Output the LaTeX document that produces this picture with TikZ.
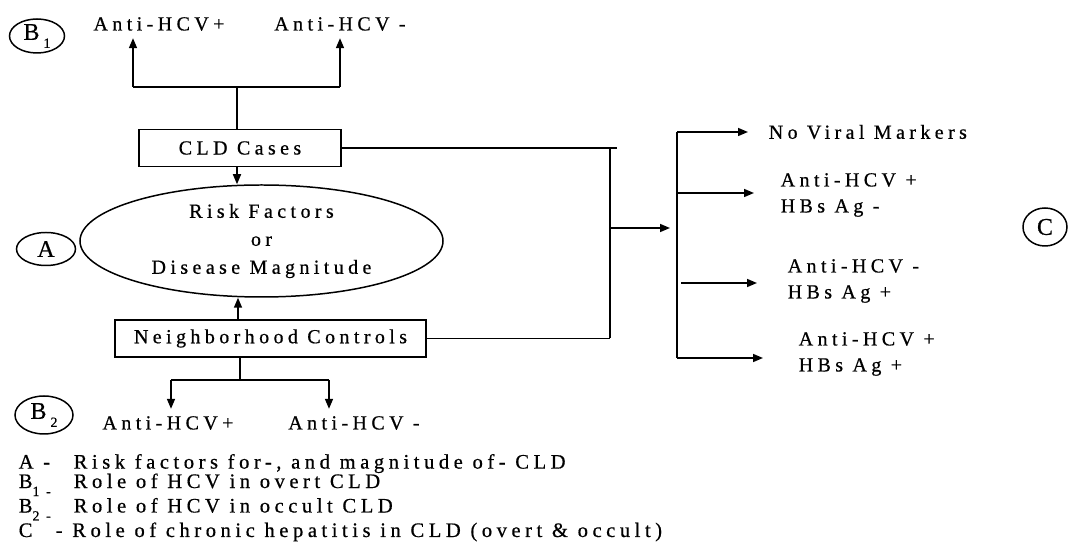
\documentclass[tikz,border=0pt]{standalone}
\usepackage{fontspec}
\setmainfont{Liberation Serif}[LetterSpace=22,FakeBold=0.6]
\usepackage{tikz}
\usetikzlibrary{arrows.meta,calc,positioning,shapes.geometric}

\newcommand{\lowidx}[1]{\raisebox{-4bp}{\fontsize{7bp}{7bp}\selectfont #1}}
\tikzset{
  cellbox/.style={draw, minimum height=18.5bp, inner ysep=0pt},
  tagoval/.style={draw, ellipse, inner sep=0pt, font=\fontsize{12bp}{12bp}\selectfont},
  arr/.style={-{Triangle[length=5bp,width=4bp]}},
  side/.style={anchor=west, inner xsep=0pt, align=left},
}

\begin{document}
\begin{tikzpicture}[x=0.5bp, y={(0,-0.5bp)}, line width=0.75pt,
    font=\fontsize{10bp}{13bp}\selectfont]
\useasboundingbox (0,0) rectangle (1074,548);

% top branch
\node[tagoval, minimum width=27.5bp, minimum height=17bp] (b1) at (37,36) {B\,\lowidx{1}};
\node (p1) at (159,24) {Anti-HCV+};
\node (n1) at (340,24) {Anti-HCV -};
\node[cellbox, minimum width=101bp] (cld) at (240,148) {CLD Cases};

% centre
\node[tagoval, minimum width=29.5bp, minimum height=16.5bp] (a) at (46,249) {A};
\node[draw, ellipse, inner sep=0pt, minimum width=181.5bp, minimum height=56bp, align=center,
      font=\fontsize{10bp}{14bp}\selectfont] (risk) at (261.5,241) {Risk Factors\\or\\Disease Magnitude};
\node[cellbox, minimum width=155.5bp] (nbh) at (270.5,338.5) {Neighborhood Controls};

% bottom branch
\node[tagoval, minimum width=29bp, minimum height=19bp] (b2) at (44,415) {B\,\lowidx{2}};
\node (p2) at (168,423) {Anti-HCV+};
\node (n2) at (354,423) {Anti-HCV -};

% right side
\node[side] (nv) at (768,132) {No Viral Markers};
\node[side] (v1) at (780,195) {Anti-HCV +\\HBs Ag -};
\node[side] (v2) at (787,281) {Anti-HCV -\\HBs Ag +};
\node[side] (v3) at (798,354) {Anti-HCV +\\HBs Ag +};
\node[tagoval, minimum width=22bp, minimum height=19bp] (c) at (1045,227) {C};

% legend
\node[anchor=base west, inner sep=0pt, align=left, font=\fontsize{10.3bp}{9.7bp}\selectfont] (key) at (18,537)
  {\makebox[27.5bp][l]{A -}Risk factors for-, and magnitude of- CLD\\
   \makebox[27.5bp][l]{B\lowidx{1 -}}Role of HCV in overt CLD\\
   \makebox[27.5bp][l]{B\lowidx{2 -}}Role of HCV in occult CLD\\
   \makebox[18.5bp][l]{C}- Role of chronic hepatitis in CLD (overt \& occult)};

% connectors
\coordinate (l1) at (133,87);
\coordinate (r1) at (340,87);
\draw (l1) -- (r1);
\draw[arr] (l1) -- (l1 |- p1.south);
\draw[arr] (r1) -- (r1 |- n1.south);
\draw (cld.north -| 237,0) -- (l1 -| 237,0);
\draw[arr] (cld.south -| 237,0) -- (risk.north -| 237,0);
\draw[arr] (nbh.north -| 238,0) -- (risk.south -| 238,0);

\coordinate (l2) at (171,380);
\coordinate (r2) at (329,380);
\draw (l2) -- (r2);
\draw (nbh.south -| 240,0) -- (l2 -| 240,0);
\draw[arr] (l2) -- (l2 |- p2.north);
\draw[arr] (r2) -- (r2 |- n2.north);

\coordinate (jt) at (610,148);
\coordinate (cldend) at (617,148);
\coordinate (mid) at (610,228);
\coordinate (midtip) at (670,228);
\draw (cld.east) -- (cldend);
\draw (jt) -- (jt |- nbh.east);
\draw (nbh.east) -- (nbh.east -| jt);
\draw[arr] (mid) -- (midtip);

\coordinate (bt) at (677,132);
\coordinate (bb) at (677,358);
\draw (bt) -- (bb);
\draw[arr, shorten >=10bp] (bt) -- (bt -| nv.west);
\draw[arr, shorten >=13bp] (bt |- 0,193) -- (v1.west |- 0,193);
\draw[arr, shorten <=2bp, shorten >=15bp] (bt |- 0,283) -- (v2.west |- 0,283);
\draw[arr, shorten >=17.5bp] (bb) -- (bb -| v3.west);
\end{tikzpicture}
\end{document}
